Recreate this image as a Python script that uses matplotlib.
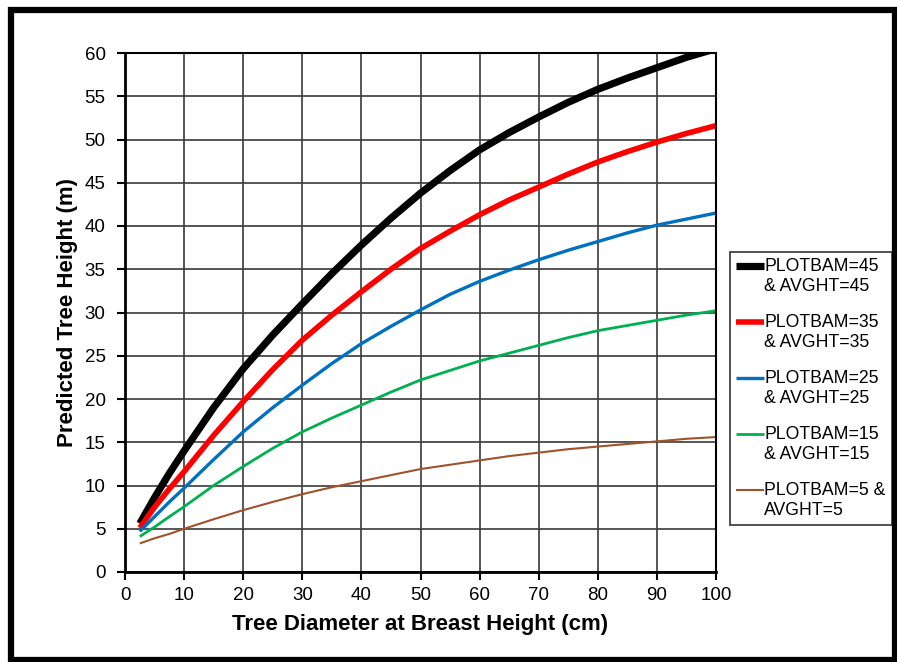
import matplotlib
matplotlib.use("Agg")
import matplotlib.pyplot as plt
from matplotlib.patches import Rectangle
from matplotlib.legend_handler import HandlerLine2D
import numpy as np

plt.rcParams['font.family'] = ['Liberation Sans', 'DejaVu Sans']

dbh = [2.5, 5, 7.5, 10, 15, 20, 25, 30, 35, 40, 45, 50, 55, 60, 65, 70, 75, 80, 85, 90, 95, 100]
h45 = [5.6, 8.6, 11.4, 14.0, 19.0, 23.5, 27.4, 31.0, 34.5, 37.8, 40.9, 43.8, 46.4, 48.8, 50.8, 52.6, 54.3, 55.8, 57.1, 58.3, 59.5, 60.5]
h35 = [5.1, 7.5, 9.6, 11.6, 15.8, 19.7, 23.4, 26.8, 29.7, 32.4, 35.0, 37.4, 39.4, 41.3, 43.0, 44.5, 46.0, 47.4, 48.6, 49.7, 50.7, 51.6]
h25 = [4.7, 6.4, 8.1, 9.7, 13.0, 16.2, 19.0, 21.6, 24.1, 26.4, 28.4, 30.3, 32.1, 33.6, 34.9, 36.1, 37.2, 38.2, 39.2, 40.1, 40.8, 41.5]
h15 = [4.1, 5.2, 6.4, 7.55, 10.0, 12.2, 14.3, 16.2, 17.8, 19.3, 20.8, 22.2, 23.3, 24.4, 25.3, 26.2, 27.1, 27.9, 28.5, 29.1, 29.7, 30.2]
h5 = [3.3, 3.9, 4.4, 5.0, 6.1, 7.15, 8.1, 9.0, 9.8, 10.5, 11.2, 11.9, 12.4, 12.9, 13.4, 13.8, 14.2, 14.5, 14.8, 15.1, 15.4, 15.6]

labels = ["PLOTBAM=45\n& AVGHT=45", "PLOTBAM=35\n& AVGHT=35",
          "PLOTBAM=25\n& AVGHT=25", "PLOTBAM=15\n& AVGHT=15",
          "PLOTBAM=5 &\nAVGHT=5"]
series = [h45, h35, h25, h15, h5]
colors = ["#000000", "#ff0000", "#0070c0", "#00b050", "#a0522d"]
widths = [5.2, 4.0, 2.4, 2.0, 1.5]


class TopLineHandler(HandlerLine2D):
    def create_artists(self, legend, orig_handle, xdescent, ydescent,
                       width, height, fontsize, trans):
        arts = super().create_artists(legend, orig_handle, xdescent, ydescent,
                                      width, height, fontsize, trans)
        for a in arts:
            y = np.asarray(a.get_ydata(), dtype=float)
            a.set_ydata(y + 0.6 * fontsize)
        return arts


fig = plt.figure(figsize=(8.97, 6.62), dpi=100)
ax = fig.add_axes([125/897, 1-572/662, (716-125)/897, (572-53)/662])

lines = []
for ys, c, w, lab in zip(series, colors, widths, labels):
    ln, = ax.plot(dbh, ys, color=c, lw=w, label=lab, solid_capstyle='butt',
                  solid_joinstyle='round')
    lines.append(ln)

ax.set_xlim(0, 100)
ax.set_ylim(0, 60)
ax.set_xticks(range(0, 101, 10))
ax.set_yticks(range(0, 61, 5))
ax.grid(True, color='#3a3a3a', lw=1.2)
ax.set_axisbelow(True)
for s in ax.spines.values():
    s.set_color('black')
    s.set_linewidth(1.5)
ax.spines['left'].set_linewidth(2)
ax.spines['bottom'].set_linewidth(2)
ax.tick_params(direction='out', length=6, width=1.5, labelsize=13.5, colors='black')
ax.tick_params(axis='y', pad=8)
ax.tick_params(axis='x', pad=5)
ax.set_xlabel("Tree Diameter at Breast Height (cm)", fontsize=16, fontweight='bold', labelpad=7)
ax.set_ylabel("Predicted Tree Height (m)", fontsize=16, fontweight='bold', labelpad=5)

leg = fig.legend(handles=lines, labels=labels, loc='upper left',
                 bbox_to_anchor=(730/897, 1-252/662),
                 fontsize=12.7, frameon=True, fancybox=False, edgecolor='black',
                 handlelength=1.6, handletextpad=0.0, borderpad=0.35,
                 labelspacing=1.1, borderaxespad=0,
                 handler_map={matplotlib.lines.Line2D: TopLineHandler()})
leg.get_frame().set_linewidth(1.2)

fig.patches.append(Rectangle((11/897, 2/662), (895-11)/897, (652-2)/662,
                             transform=fig.transFigure, fill=False,
                             edgecolor='black', lw=4.5))

fig.savefig("out.png", dpi=100)
